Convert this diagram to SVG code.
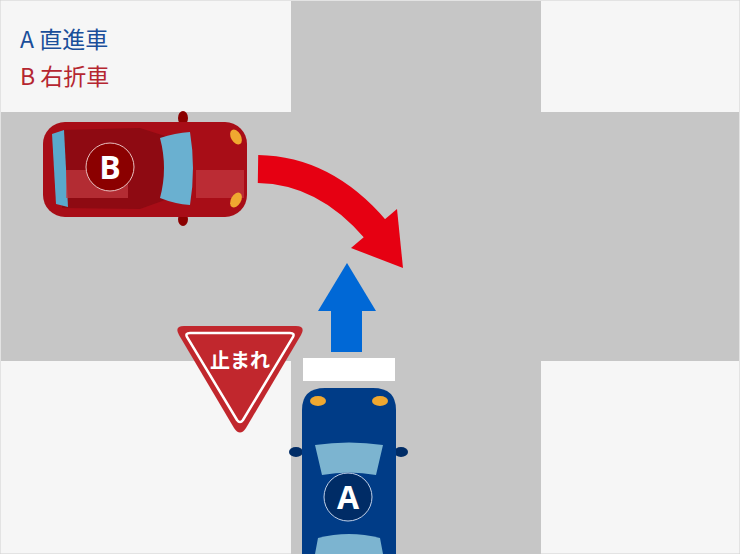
<svg xmlns="http://www.w3.org/2000/svg" width="740" height="554" viewBox="0 0 740 554">
<style>
.lg{font-family:"Noto Sans CJK JP","Noto Sans",sans-serif;font-size:23px}
.lbl{font-family:"Open Sans","Noto Sans",sans-serif;font-weight:bold;font-size:32px;fill:#fff;text-anchor:middle}
</style>
<rect x="0" y="0" width="740" height="554" fill="#f6f6f6" stroke="#d0d0d0"/>
<g id="roads" fill="#c6c6c6">
<rect x="291" y="1" width="250" height="553"/>
<rect x="1" y="112" width="738" height="249"/>
</g>
<rect id="stopline" x="303" y="358" width="92" height="23" fill="#fff"/>
<g id="legend">
<text class="lg" x="20" y="48" fill="#1a4e9a">A 直進車</text>
<text class="lg" x="20" y="85" fill="#b52630">B 右折車</text>
</g>
<g id="connectors">
<g id="arrowA" fill="#0068d6">
<rect x="331" y="308" width="31" height="44"/>
<polygon points="318,311 376,311 347,263"/>
</g>
<g id="arrowB" fill="#e60012">
<path d="M258,169 Q325,170 376,230" fill="none" stroke="#e60012" stroke-width="28"/>
<polygon points="351,248 397,209 403,268"/>
</g>
</g>
<g id="sign">
<path d="M184,326 L296,326 Q306,326 301,335 L246,428 Q240,437 234,428 L179,335 Q174,326 184,326 Z" fill="#c1272d"/>
<path d="M190,333 L290,333 Q295,333 293,337 L243,420 Q240,424 237,420 L187,337 Q185,333 190,333 Z" fill="none" stroke="#fff" stroke-width="2.5"/>
<text x="240" y="368" font-family="Noto Sans CJK JP,sans-serif" font-weight="bold" font-size="20" fill="#fff" text-anchor="middle">止まれ</text>
</g>
<g id="carB">
<ellipse cx="183" cy="118" rx="5" ry="7" fill="#8b0000"/>
<ellipse cx="183" cy="219" rx="5" ry="7" fill="#8b0000"/>
<rect x="43" y="122" width="204" height="95" rx="22" fill="#a80d17"/>
<path d="M62,130 L140,128 L165,136 L165,200 L140,209 L62,208 Z" fill="#8e0a12"/>
<path d="M52,134 L64,130 L68,207 L56,204 Z" fill="#5aa8cc"/>
<path d="M160,138 Q175,133 190,132 Q196,168 190,205 Q175,204 160,198 Q168,168 160,138 Z" fill="#6ab0d0"/>
<rect x="66" y="170" width="62" height="28" fill="#c33a42" opacity="0.7"/>
<rect x="196" y="170" width="48" height="28" fill="#c33a42" opacity="0.7"/>
<ellipse cx="236" cy="137" rx="5" ry="8" fill="#f0a830" transform="rotate(-30 236 137)"/>
<ellipse cx="236" cy="200" rx="5" ry="8" fill="#f0a830" transform="rotate(30 236 200)"/>
<circle cx="110" cy="167" r="24" fill="#8b0000" stroke="#e8c0c0" stroke-width="1"/>
<text class="lbl" x="110" y="179">B</text>
</g>
<g id="carA">
<ellipse cx="296" cy="452" rx="7" ry="5" fill="#002c66"/>
<ellipse cx="401" cy="452" rx="7" ry="5" fill="#002c66"/>
<path d="M302,554 L302,410 Q302,388 325,388 L373,388 Q396,388 396,410 L396,554 Z" fill="#003c87"/>
<path d="M315,445 Q349,440 383,445 L376,475 Q349,470 322,475 Z" fill="#7cb4d0"/>
<path d="M318,538 Q349,530 380,538 L383,554 L315,554 Z" fill="#7cb4d0"/>
<ellipse cx="318" cy="401" rx="8" ry="5" fill="#f0a830"/>
<ellipse cx="380" cy="401" rx="8" ry="5" fill="#f0a830"/>
<circle cx="348" cy="497" r="24" fill="#002c66" stroke="#c0d0e8" stroke-width="1"/>
<text class="lbl" x="348" y="509">A</text>
</g>
</svg>
